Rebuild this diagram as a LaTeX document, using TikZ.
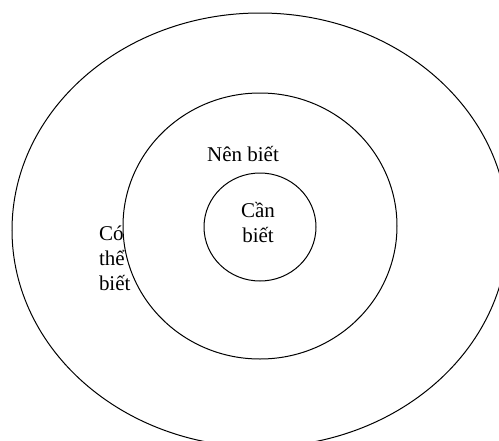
\documentclass[tikz,border=0pt]{standalone}
\usepackage{fontspec}
\setmainfont{Liberation Serif}
\tikzset{
  vong/.style={
    draw=black, line width=1pt
  },
  chu/.style={
    font=\fontsize{21}{25}\selectfont,
    inner sep=0, outer sep=0
  }
}

\begin{document}
\begin{tikzpicture}[x=1pt,y=-1pt]
\useasboundingbox (0,0) rectangle (499,440);
\coordinate (center) at (260,228);

%%%%%%%%% labels
\node[chu] (nen) at (243,154) {Nên biết};
\node[chu, align=center] (can) at (258,222) {Cần\\biết};
\node[chu, align=left, anchor=west] (cothe) at (99,258) {Có\\thể\\biết};

%%%%%%%%% outer ring
\draw[vong] (260,230) ellipse [x radius=248, y radius=217];
%%%middle ring
\draw[vong] (260,226) ellipse [x radius=137, y radius=133];
%%%inner ring
\draw[vong] (260,227) ellipse [x radius=56, y radius=54];

\end{tikzpicture}
\end{document}
